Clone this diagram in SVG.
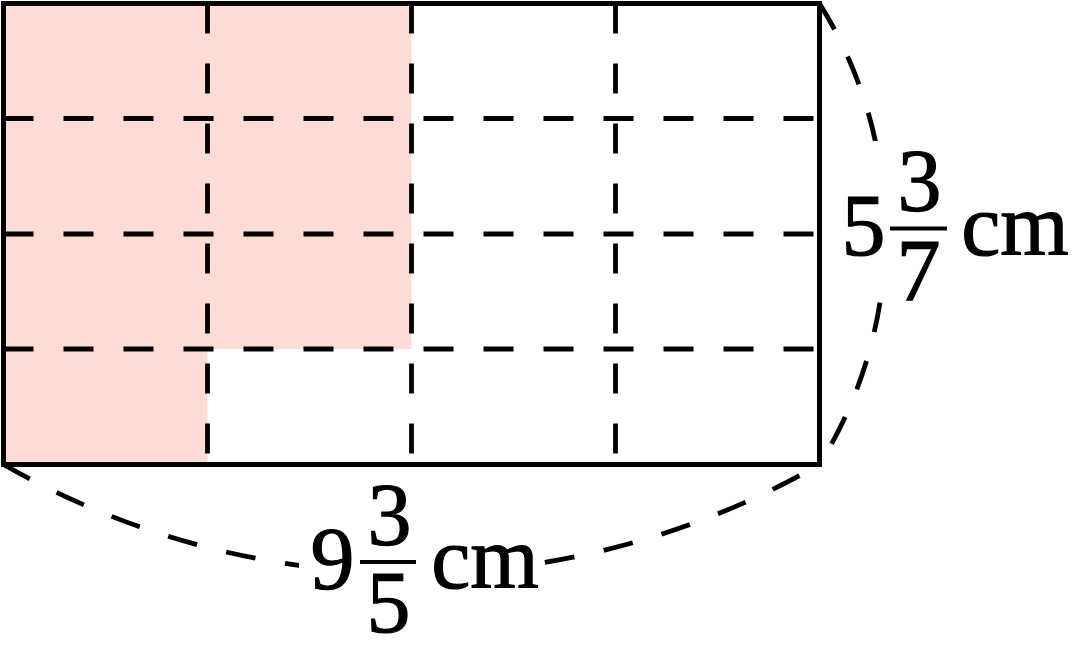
<svg xmlns="http://www.w3.org/2000/svg" width="1072" height="659" viewBox="0 0 1072 659">
  <style>
    .edge { fill: none; stroke: #000; stroke-width: 5; }
    .dash { fill: none; stroke: #000; stroke-width: 4.8; stroke-dasharray: 30 30; }
    .lbl { font-family: "Liberation Serif", "DejaVu Serif", serif; font-size: 88px; fill: #000; stroke: #000; stroke-width: 1.2; text-anchor: middle; }
    .bar { stroke: #000; stroke-width: 4; }
  </style>
  <rect width="1072" height="659" fill="#fff"/>
  <g id="shading">
    <path d="M3.5,3.5 H411.5 V349 H207.5 V464.5 H3.5 Z" fill="#fddcd5"/>
  </g>
  <g id="grid">
    <line class="dash" x1="207.5" y1="3.5" x2="207.5" y2="464.5"/>
    <line class="dash" x1="411.5" y1="3.5" x2="411.5" y2="464.5"/>
    <line class="dash" x1="615.5" y1="3.5" x2="615.5" y2="464.5"/>
    <line class="dash" x1="3.5" y1="118.5" x2="819.5" y2="118.5"/>
    <line class="dash" x1="3.5" y1="234" x2="819.5" y2="234"/>
    <line class="dash" x1="3.5" y1="349" x2="819.5" y2="349"/>
  </g>
  <g id="rectangle">
    <rect class="edge" x="3.5" y="3.5" width="816" height="461"/>
  </g>
  <g id="connectors">
    <path class="dash" d="M3.5,464.5 A820,820 0 0 0 411.5,573.2"/>
    <path class="dash" d="M819.5,464.5 A820,820 0 0 1 411.5,573.2" stroke-dashoffset="37"/>
    <path class="dash" d="M819.5,3.5 A435,435 0 0 1 885.3,234"/>
    <path class="dash" d="M819.5,464.5 A435,435 0 0 0 885.3,234" stroke-dashoffset="36"/>
  </g>
  <g id="label-width">
    <rect x="299" y="478" width="245" height="165" fill="#fff"/>
    <text class="lbl" x="332.5" y="588">9</text>
    <text class="lbl" x="389.5" y="544">3</text>
    <line class="bar" x1="360" y1="562" x2="416" y2="562"/>
    <text class="lbl" x="388.5" y="632">5</text>
    <text class="lbl" x="485" y="588">cm</text>
  </g>
  <g id="label-height">
    <rect x="838" y="141" width="234" height="159" fill="#fff"/>
    <text class="lbl" x="863.5" y="255">5</text>
    <text class="lbl" x="919.5" y="210">3</text>
    <line class="bar" x1="890" y1="228.5" x2="947" y2="228.5"/>
    <text class="lbl" x="918.5" y="300">7</text>
    <text class="lbl" x="1015" y="255">cm</text>
  </g>
</svg>
